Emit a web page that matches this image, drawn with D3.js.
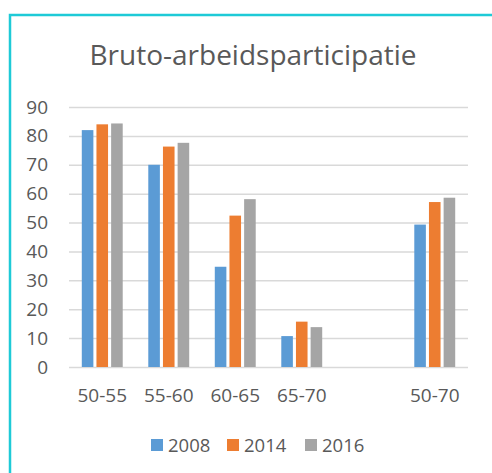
<!DOCTYPE html>
<html>
<head>
    <title>Bruto-arbeidsparticipatie</title>
    <script src="https://d3js.org/d3.v7.min.js"></script>
    <style>
        body { margin: 0; background: #fff; }
        text { font-family: "Open Sans", sans-serif; fill: #595959; }
        .grid line { stroke: #d9d9d9; stroke-width: 1.5; }
        .grid path { display: none; }
        .y-label { font-size: 19px; }
        .x-label { font-size: 19px; }
        .title { font-size: 28px; }
        .legend-label { font-size: 18.5px; }
    </style>
</head>
<body>
    <script>

        var categories = ["50-55", "55-60", "60-65", "65-70", "", "50-70"];
        var series = ["2008", "2014", "2016"];
        var values2008 = [82, 70, 34.7, 10.7, null, 49.3];
        var values2014 = [84, 76.3, 52.4, 15.7, null, 57.1];
        var values2016 = [84.3, 77.6, 58.1, 13.8, null, 58.6];
        var yTicks = [0, 10, 20, 30, 40, 50, 60, 70, 80, 90];
        var colors = ["#5b9bd5", "#ed7d31", "#a5a5a5"];

        var width = 492,
            height = 473,
            plotLeft = 69,
            plotRight = 468,
            plotTop = 107,
            plotBottom = 367;

        var svg = d3.select("body")
            .append("svg")
            .attr("width", width)
            .attr("height", height);

        // chart frame (runs past the picture on right and bottom)
        svg.append("rect")
            .attr("x", 10).attr("y", 15)
            .attr("width", 520).attr("height", 520)
            .attr("fill", "none")
            .attr("stroke", "#1ecad7")
            .attr("stroke-width", 2.5);

        svg.append("text")
            .attr("class", "title")
            .attr("x", 253)
            .attr("y", 65)
            .attr("text-anchor", "middle")
            .text("Bruto-arbeidsparticipatie");

        var y = d3.scaleLinear().domain([0, 90]).range([plotBottom, plotTop]);

        var x0 = d3.scaleBand().domain(categories).range([plotLeft, plotRight]);

        var x1 = d3.scaleBand().domain(series)
            .range([x0.bandwidth() / 2 - 22, x0.bandwidth() / 2 + 22])
            .paddingInner(0.21)
            .paddingOuter(0.105);

        var grid = svg.append("g")
            .attr("class", "grid")
            .attr("transform", "translate(" + plotLeft + ",0)")
            .call(d3.axisLeft(y).tickValues(yTicks).tickSize(-(plotRight - plotLeft)).tickFormat(""));

        svg.selectAll(".y-label")
            .data(yTicks).enter().append("text")
            .attr("class", "y-label")
            .attr("x", 48)
            .attr("y", function (d) { return y(d) + 6.5; })
            .attr("text-anchor", "end")
            .text(function (d) { return d; });

        var table = [values2008, values2014, values2016];

        var groups = svg.selectAll(".group")
            .data(categories).enter().append("g")
            .attr("class", "group")
            .attr("transform", function (d) { return "translate(" + x0(d) + ",0)"; });

        groups.selectAll("rect")
            .data(function (d, i) {
                return series.map(function (s, j) { return { s: s, v: table[j][i], c: colors[j] }; })
                    .filter(function (e) { return e.v !== null; });
            })
            .enter().append("rect")
            .attr("x", function (d) { return x1(d.s); })
            .attr("width", x1.bandwidth())
            .attr("y", function (d) { return y(d.v); })
            .attr("height", function (d) { return plotBottom - y(d.v); })
            .attr("fill", function (d) { return d.c; });

        svg.selectAll(".x-label")
            .data(categories).enter().append("text")
            .attr("class", "x-label")
            .attr("x", function (d) { return x0(d) + x0.bandwidth() / 2; })
            .attr("y", 402)
            .attr("text-anchor", "middle")
            .text(function (d) { return d; });

        // legend
        var legendX = [151, 227, 305];
        var legend = svg.selectAll(".legend")
            .data(series).enter().append("g")
            .attr("class", "legend")
            .attr("transform", function (d, i) { return "translate(" + legendX[i] + ",439)"; });

        legend.append("rect")
            .attr("width", 12).attr("height", 12)
            .attr("fill", function (d, i) { return colors[i]; });

        legend.append("text")
            .attr("class", "legend-label")
            .attr("x", 17)
            .attr("y", 12.5)
            .text(function (d) { return d; });

    </script>
</body>
</html>
